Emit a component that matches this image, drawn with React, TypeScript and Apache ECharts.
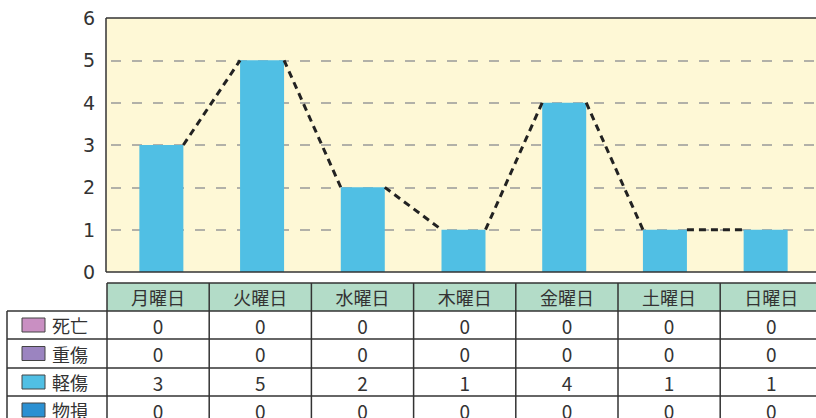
import React, { useEffect, useRef } from "react";
import * as echarts from "echarts";

const categories = ["月曜日", "火曜日", "水曜日", "木曜日", "金曜日", "土曜日", "日曜日"];
const seriesNames = ["死亡", "重傷", "軽傷", "物損"];
const deaths = [0, 0, 0, 0, 0, 0, 0];
const serious = [0, 0, 0, 0, 0, 0, 0];
const minor = [3, 5, 2, 1, 4, 1, 1];
const property = [0, 0, 0, 0, 0, 0, 0];
const seriesColors = ["#c98fc2", "#9b84c0", "#50bfe4", "#2b90d2"];

const FONT_JP = '"Noto Sans CJK JP", "Noto Sans", sans-serif';
const FONT_NUM = '"DejaVu Sans", "Liberation Sans", sans-serif';

export default function App() {
  const ref = useRef<HTMLDivElement>(null);

  useEffect(() => {
    document.body.style.margin = "0";
    if (!ref.current) return;
    const chart = echarts.init(ref.current, undefined, { renderer: "svg" });

    const allSeries = [deaths, serious, minor, property];
    const totals = categories.map((_, i) => allSeries.reduce((s, arr) => s + arr[i], 0));
    const segData = totals.slice(0, -1).map((v, i) => [i, v, totals[i + 1]]);

    const barWidth = 44;
    const gridLeft = 111;
    const gridTop = 18;
    const gridW = 709;
    const gridH = 254;

    // table geometry
    const tX0 = 107;
    const colW = 102.2;
    const legX0 = 7;
    const headY = 283;
    const rowYs = [283, 311, 339, 368, 396, 424];

    const g: any[] = [];
    g.push({
      type: "rect",
      z: -10,
      shape: { x: 106, y: gridTop, width: 720, height: gridH },
      style: { fill: "#fef8d6" },
    });
    const lineStyle = { stroke: "#333", lineWidth: 1.5 };
    g.push({ type: "line", z: 50, shape: { x1: 106, y1: gridTop, x2: 816, y2: gridTop }, style: lineStyle });
    g.push({ type: "line", z: 50, shape: { x1: 106, y1: gridTop, x2: 106, y2: gridTop + gridH }, style: lineStyle });
    g.push({ type: "line", z: 50, shape: { x1: 106, y1: gridTop + gridH, x2: 816, y2: gridTop + gridH }, style: lineStyle });

    // header cells
    categories.forEach((c, k) => {
      const x = tX0 + k * colW;
      g.push({
        type: "rect",
        z: 1,
        shape: { x, y: headY, width: colW, height: rowYs[1] - rowYs[0] },
        style: { fill: "#b3dcc8" },
      });
      g.push({
        type: "text",
        z: 60,
        x: x + colW / 2,
        y: (rowYs[0] + rowYs[1]) / 2,
        style: {
          text: c,
          fontSize: 18,
          fontFamily: FONT_JP,
          fill: "#333",
          align: "center",
          verticalAlign: "middle",
          textAlign: "center",
          textVerticalAlign: "middle",
        },
      });
    });

    // horizontal lines
    g.push({ type: "line", z: 50, shape: { x1: tX0, y1: rowYs[0], x2: 816, y2: rowYs[0] }, style: lineStyle });
    for (let r = 1; r < rowYs.length - 1; r++) {
      g.push({ type: "line", z: 50, shape: { x1: legX0, y1: rowYs[r], x2: 816, y2: rowYs[r] }, style: lineStyle });
    }
    // vertical lines
    g.push({ type: "line", z: 50, shape: { x1: legX0, y1: rowYs[1], x2: legX0, y2: 418 }, style: lineStyle });
    for (let k = 0; k <= categories.length; k++) {
      const x = tX0 + k * colW;
      if (x > 816) continue;
      g.push({ type: "line", z: 50, shape: { x1: x, y1: rowYs[0], x2: x, y2: 418 }, style: lineStyle });
    }

    // body rows
    seriesNames.forEach((name, r) => {
      const yTop = rowYs[r + 1];
      const yBot = rowYs[r + 2];
      const yc = (yTop + yBot) / 2;
      g.push({
        type: "rect",
        z: 55,
        shape: { x: 22, y: yc - 7, width: 23, height: 14 },
        style: { fill: seriesColors[r], stroke: "#444", lineWidth: 1 },
      });
      g.push({
        type: "text",
        z: 60,
        x: 52,
        y: yc,
        style: {
          text: name,
          fontSize: 18,
          fontFamily: FONT_JP,
          fill: "#333",
          align: "left",
          verticalAlign: "middle",
          textAlign: "left",
          textVerticalAlign: "middle",
        },
      });
      allSeries[r].forEach((v, k) => {
        g.push({
          type: "text",
          z: 60,
          x: tX0 + k * colW + colW / 2,
          y: yc,
          style: {
            text: String(v),
            fontSize: 19,
            fontFamily: FONT_JP,
            fill: "#333",
            align: "center",
            verticalAlign: "middle",
            textAlign: "center",
            textVerticalAlign: "middle",
          },
        });
      });
    });

    const barOrder = [3, 0, 1, 2];
    const bars = barOrder.map((idx) => ({
      type: "bar",
      name: seriesNames[idx],
      stack: "total",
      data: allSeries[idx],
      barWidth,
      itemStyle: { color: seriesColors[idx] },
      z: 2,
    }));

    chart.setOption({
      animation: false,
      grid: { left: gridLeft, top: gridTop, width: gridW, height: gridH, containLabel: false },
      xAxis: {
        type: "category",
        data: categories,
        axisLabel: { show: false },
        axisTick: { show: false },
        axisLine: { show: false },
        splitLine: { show: false },
      },
      yAxis: {
        type: "value",
        min: 0,
        max: 6,
        interval: 1,
        axisLine: { show: false },
        axisTick: { show: false },
        axisLabel: { fontSize: 19, color: "#333", fontFamily: FONT_NUM, margin: 16 },
        splitLine: {
          show: true,
          showMinLine: false,
          showMaxLine: false,
          lineStyle: { color: "#999", width: 1.5, type: [10, 11] },
        },
      },
      series: [
        ...bars,
        {
          type: "custom",
          name: "series-line",
          data: segData,
          encode: { x: 0, y: 1 },
          z: 5,
          renderItem: (params: any, api: any) => {
            const i = api.value(0);
            const p1 = api.coord([i, api.value(1)]);
            const p2 = api.coord([i + 1, api.value(2)]);
            const half = barWidth / 2;
            return {
              type: "line",
              shape: { x1: p1[0] + half, y1: p1[1], x2: p2[0] - half, y2: p2[1] },
              style: { stroke: "#222", lineWidth: 3, lineDash: [7, 5], fill: null },
            };
          },
        },
      ],
      graphic: { elements: g },
    });

    return () => chart.dispose();
  }, []);

  return <div ref={ref} style={{ width: 816, height: 418 }} />;
}
